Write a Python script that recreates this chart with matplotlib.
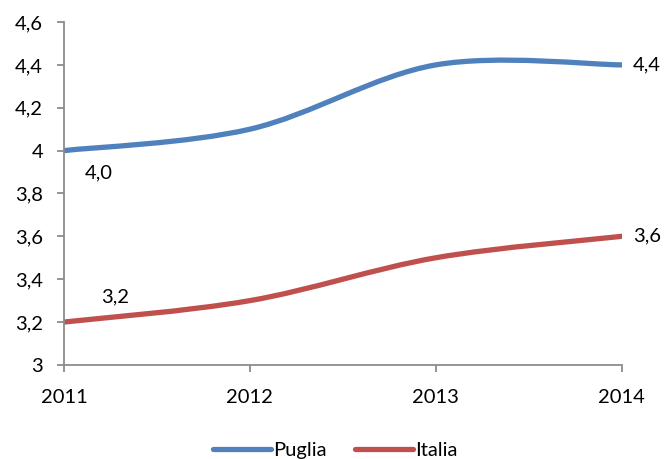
import matplotlib
matplotlib.use("Agg")
import matplotlib.pyplot as plt
from matplotlib.path import Path
from matplotlib.patches import PathPatch
from matplotlib.lines import Line2D
import numpy as np

years = [2011, 2012, 2013, 2014]
puglia = [4.0, 4.1, 4.4, 4.4]
italia = [3.2, 3.3, 3.5, 3.6]
series_names = ["Puglia", "Italia"]
colors = ["#4F81BD", "#C0504D"]
y_ticks = [3.0, 3.2, 3.4, 3.6, 3.8, 4.0, 4.2, 4.4, 4.6]

plt.rcParams["font.family"] = ["Lato", "DejaVu Sans"]
FS = 14.5


def smooth_path(xs, ys):
    """Cubic Bezier through the points (Catmull-Rom style control points)."""
    pts = np.column_stack([xs, ys]).astype(float)
    n = len(pts)
    verts = [pts[0]]
    codes = [Path.MOVETO]
    for i in range(n - 1):
        p0 = pts[max(i - 1, 0)]
        p1 = pts[i]
        p2 = pts[i + 1]
        p3 = pts[min(i + 2, n - 1)]
        c1 = p1 + (p2 - p0) / 6.0
        c2 = p2 - (p3 - p1) / 6.0
        verts += [c1, c2, p2]
        codes += [Path.CURVE4] * 3
    return Path(verts, codes)


def fmt(v):
    return f"{v:.1f}".replace(".", ",")


fig = plt.figure(figsize=(6.7, 4.59), dpi=100)
ax = fig.add_axes([0.0955, 0.205, 0.8325, 0.747])

for vals, c in zip([puglia, italia], colors):
    patch = PathPatch(smooth_path(years, vals), facecolor="none", edgecolor=c,
                      lw=3.8, capstyle="round", joinstyle="round")
    ax.add_patch(patch)

ax.set_xlim(2011, 2014)
ax.set_ylim(3.0, 4.6)
ax.set_xticks(years)
ax.set_xticklabels([str(y) for y in years])
ax.set_yticks(y_ticks)
ax.set_yticklabels([("3" if v == 3.0 else "4" if v == 4.0 else fmt(v)) for v in y_ticks])

for s in ["top", "right"]:
    ax.spines[s].set_visible(False)
for s in ["left", "bottom"]:
    ax.spines[s].set_color("#8c8c8c")
    ax.spines[s].set_linewidth(1.3)
ax.tick_params(axis="both", colors="#8c8c8c", width=1.3, length=5, labelsize=FS,
               labelcolor="black")
ax.tick_params(axis="x", pad=12)
ax.tick_params(axis="y", pad=10)

# data labels at the first and last year
lab_kw = dict(textcoords="offset points", fontsize=FS, color="black")
ax.annotate(fmt(puglia[0]), (years[0], puglia[0]), xytext=(25, -16),
            ha="center", va="center", **lab_kw)
ax.annotate(fmt(italia[0]), (years[0], italia[0]), xytext=(37, 18),
            ha="center", va="center", **lab_kw)
ax.annotate(fmt(puglia[-1]), (years[-1], puglia[-1]), xytext=(8, 0),
            ha="left", va="center", **lab_kw)
ax.annotate(fmt(italia[-1]), (years[-1], italia[-1]), xytext=(8, 0),
            ha="left", va="center", **lab_kw)

handles = [Line2D([], [], color=c, lw=3.8, solid_capstyle="round") for c in colors]
fig.legend(handles, series_names, loc="lower center", bbox_to_anchor=(0.5, -0.04),
           ncol=2, frameon=False, fontsize=FS, handlelength=2.9, handletextpad=0.1,
           columnspacing=1.4)

fig.savefig("out.png", dpi=100)
